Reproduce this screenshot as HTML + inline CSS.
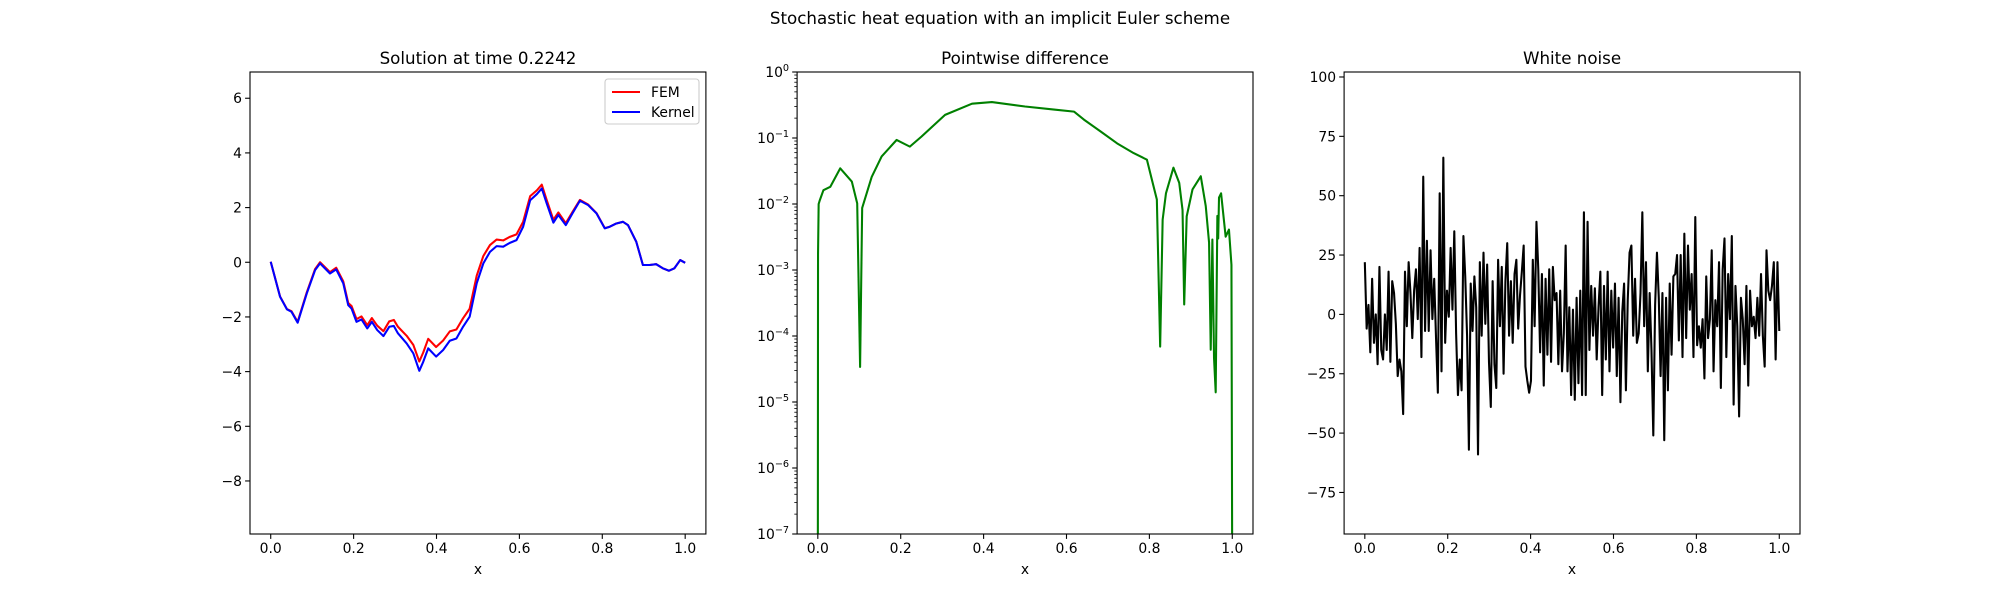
<!DOCTYPE html>
<html><head><meta charset="utf-8">
<style>
html,body{margin:0;padding:0;background:#fff;}
svg{display:block;font-family:"DejaVu Sans","Liberation Sans",sans-serif;}
</style></head>
<body>
<svg id="fig" width="2000" height="600" viewBox="0 0 2000 600" xmlns="http://www.w3.org/2000/svg">
<rect width="2000" height="600" fill="#fff"/>
<text x="1000" y="24" font-size="16.7" text-anchor="middle" fill="#000">Stochastic heat equation with an implicit Euler scheme</text>
</svg>
<script>
// ---- Panel 1 data ----
const solX = [0,0.0225,0.039,0.05,0.065,0.087,0.107,0.119,0.143,0.158,0.175,0.187,0.195,0.207,0.219,0.233,0.244,0.257,0.272,0.286,0.297,0.307,0.328,0.344,0.3585,0.368,0.380,0.399,0.416,0.432,0.448,0.464,0.480,0.497,0.513,0.529,0.545,0.561,0.577,0.593,0.609,0.626,0.642,0.654,0.666,0.682,0.694,0.712,0.728,0.746,0.766,0.786,0.806,0.818,0.834,0.850,0.862,0.882,0.898,0.914,0.930,0.946,0.961,0.974,0.988,1.0];
const kernelVals = [0.02,-1.26,-1.72,-1.81,-2.21,-1.14,-0.29,-0.04,-0.41,-0.26,-0.77,-1.57,-1.69,-2.18,-2.09,-2.42,-2.18,-2.48,-2.70,-2.36,-2.33,-2.60,-2.97,-3.33,-3.97,-3.64,-3.15,-3.45,-3.21,-2.87,-2.79,-2.36,-1.99,-0.77,-0.04,0.38,0.59,0.57,0.71,0.81,1.30,2.27,2.49,2.70,2.15,1.45,1.73,1.36,1.79,2.25,2.09,1.79,1.24,1.30,1.42,1.48,1.36,0.75,-0.10,-0.10,-0.07,-0.22,-0.31,-0.22,0.08,-0.02];
const femVals = [0.02,-1.25,-1.71,-1.79,-2.18,-1.10,-0.25,0.00,-0.36,-0.20,-0.70,-1.49,-1.60,-2.08,-1.98,-2.30,-2.04,-2.32,-2.52,-2.16,-2.11,-2.36,-2.69,-3.02,-3.63,-3.30,-2.80,-3.10,-2.86,-2.53,-2.46,-2.05,-1.70,-0.49,0.23,0.63,0.83,0.80,0.93,1.02,1.48,2.42,2.63,2.84,2.27,1.55,1.82,1.43,1.84,2.28,2.11,1.80,1.25,1.30,1.42,1.48,1.36,0.75,-0.10,-0.10,-0.07,-0.22,-0.31,-0.22,0.08,-0.02];
const p1YTicks = [6,4,2,0,-2,-4,-6,-8];
const xTicks = [0,0.2,0.4,0.6,0.8,1.0];
const xTickLabels = ["0.0","0.2","0.4","0.6","0.8","1.0"];
// ---- Panel 2 data ----
const diffX = [0,0.0005,0.002,0.005,0.0135,0.030,0.054,0.082,0.095,0.102,0.107,0.130,0.154,0.190,0.222,0.25,0.307,0.372,0.42,0.5,0.570,0.618,0.642,0.682,0.722,0.762,0.794,0.806,0.818,0.826,0.832,0.840,0.858,0.872,0.880,0.884,0.890,0.904,0.924,0.936,0.944,0.948,0.952,0.956,0.960,0.964,0.966,0.968,0.973,0.984,0.992,0.998,1.0];
const diffVals = [1e-8,1.7e-3,1.0e-2,0.0115,0.0162,0.0182,0.0347,0.0219,0.0102,3.4e-5,0.0087,0.0257,0.0525,0.0933,0.074,0.105,0.224,0.331,0.35,0.30,0.27,0.251,0.19,0.126,0.083,0.059,0.047,0.0234,0.0117,6.9e-5,0.0058,0.0145,0.0355,0.0209,0.0081,3.0e-4,0.0065,0.0166,0.0263,0.0093,0.0026,6.2e-5,0.0029,4.6e-5,1.4e-5,0.0066,0.003,0.0125,0.0145,0.0032,0.0041,0.0012,1e-8];
const p2Decades = [0,-1,-2,-3,-4,-5,-6,-7];
// ---- Panel 3 data ----
const noiseVals = [22,-6,4,-16,15,-12,0,-21,20,-15,-19,0,-15,18,-20,14,9,-4,-26,-19,-24,-42,18,-5,22,9,-10,10,19,-2,28,-18,58,-7,31,-7,27,-2,15,-10,-33,51,-24,66,-12,10,-1,28,2,35,-8,-34,-19,-32,33,16,-9,-57,13,-7,16,3,-59,22,-9,26,-4,21,-20,-39,14,-21,-31,23,-5,20,-25,14,30,-9,14,-12,17,23,-6,8,18,29,-22,-28,-33,-28,23,-5,39,19,-16,17,-30,15,-17,19,-20,20,6,9,-21,10,-24,-8,29,-24,3,-34,2,-36,7,-29,10,-34,43,-34,39,-15,12,-9,11,-19,3,18,-34,12,-19,18,-24,10,-14,13,-26,7,-37,1,13,-32,6,26,29,-9,15,-12,-8,9,43,-5,22,-24,9,-15,-51,4,26,7,-26,9,-53,7,-32,13,-17,16,17,25,-11,25,-18,34,-10,29,2,17,-18,41,-13,-5,-14,-2,-27,16,-10,-2,27,-24,6,-5,22,-31,19,32,-18,17,-2,33,-38,12,-5,-43,7,-2,-21,12,-30,10,-5,-1,-10,7,-9,17,-9,-22,27,10,6,12,22,-19,22,-7];
const p3YTicks = [100,75,50,25,0,-25,-50,-75];

const NS = "http://www.w3.org/2000/svg";
const svg = document.getElementById('fig');
function mk(tag, attrs, parent){ const e=document.createElementNS(NS,tag); for(const k in attrs) e.setAttribute(k,attrs[k]); (parent||svg).appendChild(e); return e; }

function makeAxes(left, name, yMin, yMax, logY){
  const top=72, bottom=534, width=455.9;
  const xs = v => left + (v+0.05)/1.1*width;
  const ys = logY ? (v => top + (yMax - Math.log10(Math.max(v,1e-9)))/(yMax-yMin)*(bottom-top))
                  : (v => top + (yMax - v)/(yMax-yMin)*(bottom-top));
  const g = mk('g',{});
  
  
  const clipId = name+'-clip';
  const cp = mk('clipPath',{id:clipId},g);
  mk('rect',{x:left,y:top,width:width,height:bottom-top},cp);
  return {left,top,bottom,width,xs,ys,g,clipId};
}

function xAxis(ax){
  xTicks.forEach((t,i)=>{
    const x=ax.xs(t);
    const tk = mk('line',{x1:x,x2:x,y1:ax.bottom,y2:ax.bottom+4.9,stroke:'#000','stroke-width':1.1},ax.g);
    
    
    const lb = mk('text',{x:x,y:ax.bottom+19,'font-size':13.9,'text-anchor':'middle'},ax.g);
    lb.textContent = xTickLabels[i];
    
    
  });
  const xl = mk('text',{x:ax.left+ax.width/2,y:574,'font-size':13.9,'text-anchor':'middle'},ax.g);
  xl.textContent='x';
  
  
}
function yLinTicks(ax, ticks){
  ticks.forEach(t=>{
    const y=ax.ys(t);
    const tk = mk('line',{x1:ax.left-4.9,x2:ax.left,y1:y,y2:y,stroke:'#000','stroke-width':1.1},ax.g);
    
    
    const lb = mk('text',{x:ax.left-8,y:y+5,'font-size':13.9,'text-anchor':'end'},ax.g);
    lb.textContent = (t<0?'\u2212':'')+Math.abs(t);
    
    
  });
}
function frame(ax, title){
  const r = mk('rect',{x:ax.left,y:ax.top,width:ax.width,height:ax.bottom-ax.top,fill:'none',stroke:'#000','stroke-width':1.1},ax.g);
  
  
  const t = mk('text',{x:ax.left+ax.width/2,y:ax.top-8,'font-size':16.7,'text-anchor':'middle'},ax.g);
  t.textContent = title;
  
  
}
function line(ax, xsArr, ysArr, color, name){
  const d = xsArr.map((x,i)=>(i?'L':'M')+ax.xs(x).toFixed(2)+','+ax.ys(ysArr[i]).toFixed(2)).join('');
  const p = mk('path',{d:d,fill:'none',stroke:color,'stroke-width':2.08,'stroke-linejoin':'round','clip-path':'url(#'+ax.clipId+')'},ax.g);
  
  
}

// Panel 1
const a1 = makeAxes(250,'solution-panel',-9.94,6.96,false);
line(a1, solX, femVals, '#ff0000', 'fem-line');
line(a1, solX, kernelVals, '#0000ff', 'kernel-line');
yLinTicks(a1, p1YTicks); xAxis(a1); frame(a1,'Solution at time 0.2242');
// legend
const lg = mk('g',{},a1.g);


mk('rect',{x:605,y:79,width:94,height:45,rx:3,fill:'#fff','fill-opacity':0.8,stroke:'#ccc','stroke-width':1.1},lg);
const le1 = mk('line',{x1:612,x2:640,y1:92,y2:92,stroke:'#ff0000','stroke-width':2.08},lg);


const lt1 = mk('text',{x:651,y:97,'font-size':13.9},lg); lt1.textContent='FEM';


const le2 = mk('line',{x1:612,x2:640,y1:112,y2:112,stroke:'#0000ff','stroke-width':2.08},lg);


const lt2 = mk('text',{x:651,y:117,'font-size':13.9},lg); lt2.textContent='Kernel';



// Panel 2
const a2 = makeAxes(797.1,'difference-panel',-7,0,true);
line(a2, diffX, diffVals, '#008000', 'difference-line');
p2Decades.forEach(dcd=>{
  const y=a2.ys(Math.pow(10,dcd));
  const tk = mk('line',{x1:a2.left-4.9,x2:a2.left,y1:y,y2:y,stroke:'#000','stroke-width':1.1},a2.g);
  
  
  const lb = mk('text',{x:a2.left-8,y:y+5,'font-size':13.9,'text-anchor':'end'},a2.g);
  
  
  const base = mk('tspan',{},lb); base.textContent='10';
  const sup = mk('tspan',{dy:-6,'font-size':9.7},lb); sup.textContent = dcd===0?'0':'\u2212'+(-dcd);
  if(dcd>-7){
    for(let m=2;m<=9;m++){
      const ym=a2.ys(m*Math.pow(10,dcd-1));
      const mt = mk('line',{x1:a2.left-2.8,x2:a2.left,y1:ym,y2:ym,stroke:'#000','stroke-width':0.8},a2.g);
      
      
    }
  }
});
xAxis(a2); frame(a2,'Pointwise difference');

// Panel 3
const a3 = makeAxes(1344.1,'noise-panel',-92.5,102.1,false);
const noiseX = noiseVals.map((v,i)=> i/(noiseVals.length-1));
line(a3, noiseX, noiseVals, '#000000', 'noise-line');
yLinTicks(a3, p3YTicks); xAxis(a3); frame(a3,'White noise');
</script>
</body></html>
